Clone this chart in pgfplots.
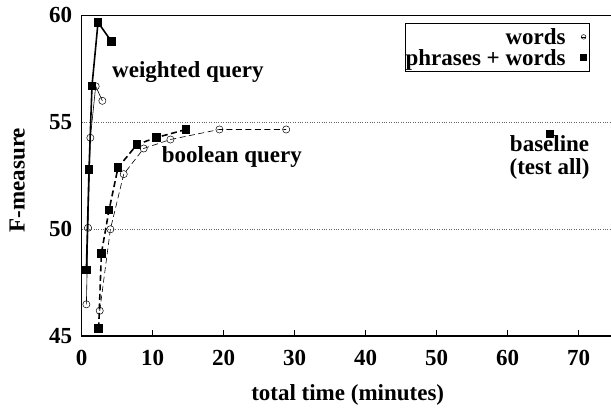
\documentclass[border=0pt]{standalone}
\usepackage{pgfplots}
\pgfplotsset{compat=1.18}
\usepackage{fontspec}
\setmainfont{Liberation Serif}
\newcommand\bigbf{\fontsize{23}{24}\selectfont\bfseries}
\begin{document}
\begin{tikzpicture}
\begin{axis}[
  at={(0,0)}, anchor=south west,
  scale only axis, width=532pt, height=320.7pt,
  xmin=0, xmax=74.93, ymin=45, ymax=60,
  axis line style={line width=1.2pt},
  xtick={0,10,...,70}, ytick={45,50,55,60},
  xtick pos=bottom, ytick pos=left,
  tick align=inside, major tick length=6pt,
  xtick style={line width=0.8pt, black},
  ytick style={draw=none},
  /pgf/number format/assume math mode=true,
  tick label style={font=\bigbf},
  yticklabel style={xshift=-6pt},
  xticklabel style={yshift=-11pt},
  ymajorgrids, grid style={dotted, line width=0.7pt, gray!80!black},
  xlabel={total time (minutes)},
  ylabel={F-measure},
  label style={font=\bigbf},
  xlabel style={at={(axis description cs:0.5,-0.1996)}, anchor=base},
  ylabel style={at={(axis description cs:-0.1,0.486)}, anchor=south},
  legend style={at={(axis description cs:0.9555,0.976)}, anchor=north east,
    draw=black, line width=0.8pt, inner xsep=0pt, inner ysep=3pt, font=\bigbf,
    row sep=0pt, column sep=0pt,
    nodes={inner xsep=0pt, inner ysep=1pt, text height=17pt, text depth=2pt},
    cells={anchor=east}},
  legend plot pos=right,
  legend cell align=right,
]
\addplot[forget plot, black, line width=0.6pt, mark=o, mark size=3.6pt, mark options={solid, line width=0.5pt}]
  coordinates {(0.66,46.48)(0.89,50.06)(1.22,54.27)(1.97,56.68)(2.91,56.0)};
\addplot[forget plot, black, line width=1.6pt, mark=square*, mark size=3.5pt, mark options={solid}]
  coordinates {(0.66,48.08)(1.03,52.79)(1.45,56.7)(2.3,59.67)(4.2,58.77)};
\addplot[forget plot, black, line width=0.6pt, dash pattern=on 6pt off 3.5pt, mark=o, mark size=3.6pt, mark options={solid, line width=0.5pt}]
  coordinates {(2.54,46.18)(4.04,49.99)(5.92,52.57)(8.73,53.77)(12.5,54.19)(19.4,54.66)(28.8,54.66)};
\addplot[forget plot, black, line width=1.6pt, dash pattern=on 6pt off 3.5pt, mark=square*, mark size=3.5pt, mark options={solid}]
  coordinates {(2.39,45.36)(2.77,48.86)(3.85,50.89)(5.12,52.88)(7.8,53.96)(10.5,54.28)(14.7,54.66)};
\addplot[forget plot, only marks, black, mark=square*, mark size=3.5pt]
  coordinates {(65.9,54.47)};
\addlegendimage{legend image code/.code={\path[draw=none] (0,0) -- (24pt,0); \draw[line width=0.5pt] (18pt,0pt) circle (2.3pt); \draw[line width=0.5pt] (15.7pt,0pt)--(20.3pt,0pt);}}
\addlegendentry{words}
\addlegendimage{legend image code/.code={\path[draw=none] (0,0) -- (24pt,0); \fill[black] (15pt,-3pt) rectangle (21pt,3pt);}}
\addlegendentry{phrases + words}
\node[anchor=base west, font=\bigbf] at (axis cs:3.8,57.1) {weighted query};
\node[anchor=base west, font=\bigbf] at (axis cs:10.8,53.13) {boolean query};
\node[anchor=base, font=\bigbf] at (axis cs:65.9,53.64) {baseline};
\node[anchor=base, font=\bigbf] at (axis cs:65.9,52.57) {(test all)};
\end{axis}
\pgfresetboundingbox
\path[use as bounding box] (-81.7pt,-73pt) rectangle (529.3pt,336pt);
\end{tikzpicture}
\end{document}
